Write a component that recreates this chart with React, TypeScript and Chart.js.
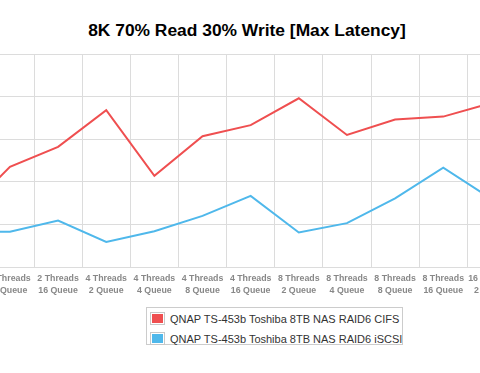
import React, { useEffect, useRef } from "react";
import { Chart, registerables } from "chart.js";

Chart.register(...registerables);

const threadLabels = ["2 Threads", "2 Threads", "2 Threads", "2 Threads", "4 Threads", "4 Threads", "4 Threads", "4 Threads", "8 Threads", "8 Threads", "8 Threads", "8 Threads", "16 Threads", "16 Threads", "16 Threads", "16 Threads"];
const queueLabels = ["2 Queue", "4 Queue", "8 Queue", "16 Queue", "2 Queue", "4 Queue", "8 Queue", "16 Queue", "2 Queue", "4 Queue", "8 Queue", "16 Queue", "2 Queue", "4 Queue", "8 Queue", "16 Queue"];

// values estimated from the visible part of the chart (first and last categories are off-screen)
const cifsValues: (number | null)[] = [null, 121, 235, 282, 368, 214, 307, 333, 396, 310, 346, 353, 385];
const iscsiValues: (number | null)[] = [null, 83, 83, 109, 59, 84, 120, 167, 81, 103, 161, 233, 160];

const seriesNames = ["QNAP TS-453b Toshiba 8TB NAS RAID6 CIFS", "QNAP TS-453b Toshiba 8TB NAS RAID6 iSCSI"];
const seriesColors = ["#ef4f50", "#4fb8eb"];

const yMin = 0;
const yMax = 500;
const yStep = 100;

export default function App() {
  const ref = useRef<HTMLCanvasElement | null>(null);

  useEffect(() => {
    document.body.style.margin = "0";
    const ctx = ref.current;
    if (!ctx) return;
    const chart = new Chart(ctx, {
      type: "line",
      data: {
        labels: threadLabels.map((t, i) => [t, queueLabels[i]]),
        datasets: [
          {
            label: seriesNames[0],
            data: cifsValues,
            borderColor: seriesColors[0],
            backgroundColor: seriesColors[0],
            borderWidth: 2,
            pointRadius: 0,
            tension: 0,
            fill: false,
          },
          {
            label: seriesNames[1],
            data: iscsiValues,
            borderColor: seriesColors[1],
            backgroundColor: seriesColors[1],
            borderWidth: 2,
            pointRadius: 0,
            tension: 0,
            fill: false,
          },
        ],
      },
      options: {
        animation: false,
        responsive: false,
        maintainAspectRatio: false,
        layout: { padding: { top: 54, left: 0, right: 0, bottom: 0 } },
        plugins: {
          legend: { display: false },
          title: { display: false },
          tooltip: { enabled: false },
        },
        scales: {
          x: {
            offset: true,
            grid: { offset: true, color: "#dcdcdc", drawTicks: false, lineWidth: 1 },
            border: { display: true, color: "#dcdcdc" },
            ticks: {
              color: "#888888",
              font: { family: "Liberation Sans, Arial, sans-serif", size: 8.8, weight: "bold", lineHeight: 1.4 },
              padding: 5,
              maxRotation: 0,
              minRotation: 0,
              autoSkip: false,
            },
            afterFit: (scale: any) => {
              scale.height = 33;
            },
          },
          y: {
            min: yMin,
            max: yMax,
            ticks: { display: false, stepSize: yStep },
            grid: { color: "#dcdcdc", drawTicks: false },
            border: { display: false },
            afterFit: (scale: any) => {
              scale.width = 0;
            },
          },
        },
      },
    });
    return () => chart.destroy();
  }, []);

  const font = "'Liberation Sans', Arial, Helvetica, sans-serif";

  return (
    <div style={{ position: "fixed", left: 0, top: 0, width: 480, height: 373, overflow: "hidden", background: "#fff", fontFamily: font }}>
      <div style={{ position: "absolute", left: 0, top: 19, width: 494, textAlign: "center", fontWeight: "bold", fontSize: 17.4, lineHeight: "22px", color: "#000" }}>
        8K 70% Read 30% Write [Max Latency]
      </div>
      <canvas ref={ref} width={776} height={300} style={{ position: "absolute", left: -112, top: 0, width: 776, height: 300 }} />
      <div style={{ position: "absolute", left: 146, top: 307, width: 255, height: 36, border: "1px solid #cccccc", fontSize: 11, color: "#333" }}>
        {seriesNames.map((name, i) => (
          <div key={name} style={{ position: "absolute", left: 3, top: 3 + i * 20, height: 15, display: "flex", alignItems: "center", whiteSpace: "nowrap" }}>
            <span style={{ display: "inline-block", width: 13, height: 11, border: "1px solid #c8c8c8", boxShadow: "inset 0 0 0 1px #fff", background: seriesColors[i], marginRight: 5 }} />
            <span>{name}</span>
          </div>
        ))}
      </div>
    </div>
  );
}
